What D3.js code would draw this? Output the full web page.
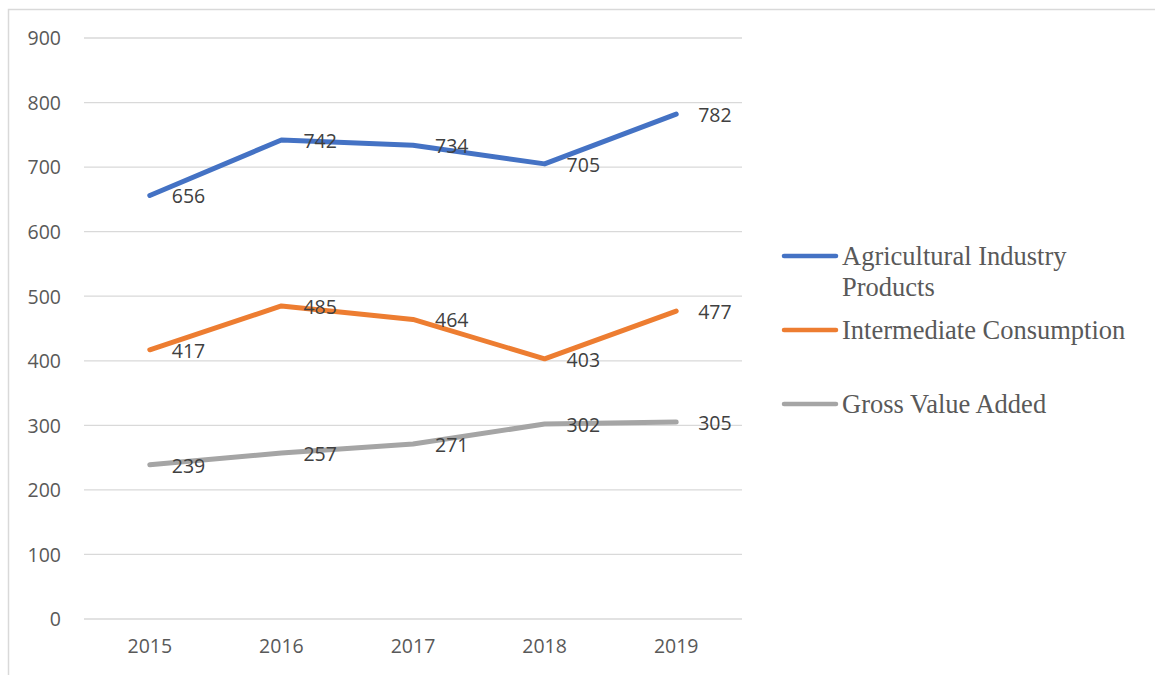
<!DOCTYPE html>
<html>
<head>
<meta charset="utf-8">
<script src="https://cdn.jsdelivr.net/npm/d3@7"></script>
<style>
  html, body { margin: 0; padding: 0; background: #fff; }
  svg { display: block; }
</style>
</head>
<body>
<svg id="chart" width="1155" height="675"></svg>
<script>
// Categories and series values
const years = ["2015", "2016", "2017", "2018", "2019"];
const agriculturalProducts = [656, 742, 734, 705, 782];
const intermediateConsumption = [417, 485, 464, 403, 477];
const grossValueAdded = [239, 257, 271, 302, 305];
const yTicks = [0, 100, 200, 300, 400, 500, 600, 700, 800, 900];

const seriesNames = [["Agricultural Industry", "Products"], ["Intermediate Consumption"], ["Gross Value Added"]];
const seriesValues = [agriculturalProducts, intermediateConsumption, grossValueAdded];
const seriesColors = ["#4472C4", "#ED7D31", "#A5A5A5"];

const svg = d3.select("#chart");

// Outer chart frame
svg.append("rect")
  .attr("x", 8.5).attr("y", 9.5)
  .attr("width", 1170).attr("height", 700)
  .attr("fill", "none").attr("stroke", "#D9D9D9").attr("stroke-width", 1.5);

const plot = { left: 84, right: 742, top: 38, bottom: 619 };

const x = d3.scaleBand().domain(years).range([plot.left, plot.right]);
const y = d3.scaleLinear().domain([0, 900]).range([plot.bottom, plot.top]);

const numFont = "'Open Sans', 'DejaVu Sans', sans-serif";

// Horizontal gridlines
svg.append("g")
  .selectAll("line")
  .data(yTicks)
  .join("line")
  .attr("x1", plot.left).attr("x2", plot.right)
  .attr("y1", d => y(d)).attr("y2", d => y(d))
  .attr("stroke", "#D9D9D9").attr("stroke-width", 1.3);

// Y axis tick labels
const yAxis = d3.axisLeft(y).tickValues(yTicks).tickSize(0).tickPadding(0);
const yg = svg.append("g").attr("transform", `translate(${plot.left - 23},0)`).call(yAxis);
yg.select(".domain").remove();
yg.selectAll("text")
  .attr("font-family", numFont).attr("font-size", 19.5).attr("fill", "#595959")
  .attr("dy", "0.35em");

// X axis tick labels
const xAxis = d3.axisBottom(x).tickSize(0).tickPadding(0);
const xg = svg.append("g").attr("transform", `translate(0,${plot.bottom + 20})`).call(xAxis);
xg.select(".domain").remove();
xg.selectAll("text")
  .attr("font-family", numFont).attr("font-size", 19.5).attr("fill", "#595959")
  .attr("dy", "0.71em");

const cx = d => x(d) + x.bandwidth() / 2;
const line = d3.line().x((d, i) => cx(years[i])).y(d => y(d));

seriesValues.forEach((vals, s) => {
  svg.append("path")
    .datum(vals)
    .attr("d", line)
    .attr("fill", "none")
    .attr("stroke", seriesColors[s])
    .attr("stroke-width", 5)
    .attr("stroke-linejoin", "round")
    .attr("stroke-linecap", "round");
});

// Data labels to the right of each point
seriesValues.forEach((vals, s) => {
  svg.append("g")
    .selectAll("text")
    .data(vals)
    .join("text")
    .attr("x", (d, i) => cx(years[i]) + 22)
    .attr("y", d => y(d) + 1)
    .attr("dy", "0.35em")
    .attr("font-family", numFont).attr("font-size", 19.5).attr("fill", "#404040")
    .text(d => d);
});

// Legend
const legendY = [256, 330, 404];
const legend = svg.append("g");
seriesNames.forEach((lines, s) => {
  const g = legend.append("g").attr("transform", `translate(0,${legendY[s]})`);
  g.append("line")
    .attr("x1", 784).attr("x2", 836)
    .attr("y1", 0).attr("y2", 0)
    .attr("stroke", seriesColors[s]).attr("stroke-width", 4.5)
    .attr("stroke-linecap", "round");
  g.append("text")
    .attr("x", 842)
    .attr("y", 9)
    .attr("font-family", "'Liberation Serif', 'Times New Roman', serif")
    .attr("font-size", 26.5).attr("fill", "#595959")
    .selectAll("tspan")
    .data(lines)
    .join("tspan")
    .attr("x", 842)
    .attr("dy", (d, i) => i === 0 ? 0 : 31)
    .text(d => d);
});
</script>
</body>
</html>
